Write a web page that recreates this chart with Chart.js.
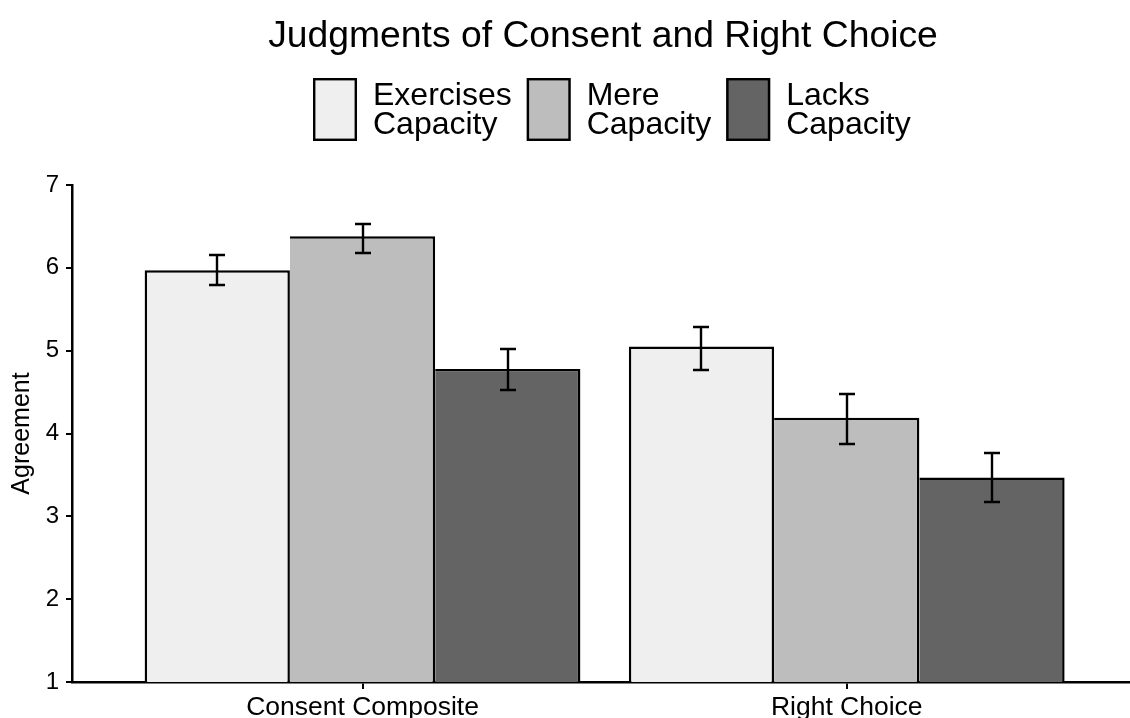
<!DOCTYPE html>
<html><head><meta charset="utf-8">
<script src="https://cdn.jsdelivr.net/npm/chart.js@4/dist/chart.umd.min.js"></script>
<style>html,body{margin:0;padding:0;background:#fff;overflow:hidden}</style>
</head><body><canvas id="c" width="1130" height="718"></canvas>
<script>
// ---- data ----
const categories = ['Consent Composite', 'Right Choice'];
const categoryIndex = [1, 2];
const seriesLabels = [['Exercises', 'Capacity'], ['Mere', 'Capacity'], ['Lacks', 'Capacity']];
const exercisesMean = [5.97, 5.05];
const exercisesLow  = [5.79, 4.77];
const exercisesHigh = [6.15, 5.28];
const mereMean = [6.38, 4.19];
const mereLow  = [6.18, 3.87];
const mereHigh = [6.53, 4.48];
const lacksMean = [4.78, 3.47];
const lacksLow  = [4.52, 3.17];
const lacksHigh = [5.02, 3.77];
const yTickValues = [1, 2, 3, 4, 5, 6, 7];
const chartTitle = 'Judgments of Consent and Right Choice';
const yTitle = 'Agreement';

const FONT = '"Liberation Sans", Arial, Helvetica, sans-serif';
const fills = ['#efefef', '#bdbdbd', '#646464'];

function pts(vals){ return vals.map((v, i) => ({x: categoryIndex[i], y: v})); }

const errorBars = {
  id: 'errorBars',
  afterDatasetsDraw(chart){
    const ctx = chart.ctx, ys = chart.scales.y;
    chart.data.datasets.forEach((ds, di) => {
      const meta = chart.getDatasetMeta(di);
      meta.data.forEach((bar, i) => {
        const x = Math.round(bar.x);
        const yl = Math.round(ys.getPixelForValue(ds.errLow[i]));
        const yh = Math.round(ys.getPixelForValue(ds.errHigh[i]));
        ctx.save();
        ctx.strokeStyle = '#000';
        ctx.lineWidth = 2.4;
        ctx.beginPath();
        ctx.moveTo(x, yl); ctx.lineTo(x, yh);
        ctx.moveTo(x - 8, yl); ctx.lineTo(x + 8, yl);
        ctx.moveTo(x - 8, yh); ctx.lineTo(x + 8, yh);
        ctx.stroke();
        ctx.restore();
      });
    });
  }
};

const titleAndLegend = {
  id: 'titleAndLegend',
  afterDraw(chart){
    const ctx = chart.ctx, ca = chart.chartArea;
    const cx = (ca.left + ca.right) / 2;
    ctx.save();
    ctx.fillStyle = '#000';
    ctx.textBaseline = 'alphabetic';
    ctx.textAlign = 'center';
    ctx.font = '37.3px ' + FONT;
    ctx.fillText(chartTitle, cx + 2, 47);
    // legend
    ctx.font = '32px ' + FONT;
    ctx.textAlign = 'left';
    const boxW = 44, boxTop = 78, boxH = 63, gapText = 16, gapItem = 15;
    let x = cx - 288;
    chart.data.datasets.forEach((ds, i) => {
      ctx.fillStyle = fills[i];
      ctx.fillRect(x, boxTop, boxW, boxH);
      ctx.strokeStyle = '#000';
      ctx.lineWidth = 2.4;
      ctx.strokeRect(x + 1.2, boxTop + 1.2, boxW - 2.4, boxH - 2.4);
      ctx.fillStyle = '#000';
      const lines = seriesLabels[i];
      const tx = x + boxW + gapText;
      ctx.fillText(lines[0], tx, 105);
      ctx.fillText(lines[1], tx, 134);
      const w = Math.max(...lines.map(l => ctx.measureText(l).width));
      x = tx + w + gapItem;
    });
    ctx.restore();
  }
};

const mk = (label, mean, lo, hi, i, bw) => ({
  label: label.join(' '), data: pts(mean), errLow: lo, errHigh: hi,
  backgroundColor: fills[i], borderColor: '#000', borderWidth: bw, borderSkipped: 'start'
});

new Chart(document.getElementById('c'), {
  type: 'bar',
  data: {
    datasets: [
      mk(seriesLabels[0], exercisesMean, exercisesLow, exercisesHigh, 0, {left: 2.5, right: 2.5, top: 2.5, bottom: 0}),
      mk(seriesLabels[1], mereMean, mereLow, mereHigh, 1, {left: 0, right: 2.5, top: 2.5, bottom: 0}),
      mk(seriesLabels[2], lacksMean, lacksLow, lacksHigh, 2, {left: 0, right: 2.5, top: 2.5, bottom: 0})
    ]
  },
  options: {
    responsive: false,
    devicePixelRatio: 1,
    animation: false,
    layout: {padding: {top: 185, left: 0, right: 0, bottom: 0}},
    datasets: {bar: {categoryPercentage: 0.9, barPercentage: 1}},
    plugins: {legend: {display: false}, tooltip: {enabled: false}, title: {display: false}},
    scales: {
      x: {
        type: 'linear', min: 0.4, max: 2.585, offset: false,
        afterBuildTicks: s => { s.ticks = categoryIndex.map(v => ({value: v})); },
        afterFit: s => { s.height = 36; },
        grid: {offset: false, drawOnChartArea: false, drawTicks: true, tickLength: 7, color: '#000', lineWidth: 2, tickWidth: 2, tickColor: '#000'},
        border: {display: true, color: '#000', width: 2.5},
        ticks: {
          padding: 3, color: '#000', font: {family: FONT, size: 26.5}, maxRotation: 0, autoSkip: false,
          callback: (v, i) => categories[i]
        }
      },
      y: {
        min: 1, max: 7,
        afterBuildTicks: s => { s.ticks = yTickValues.map(v => ({value: v})); },
        afterFit: s => { s.width = 72; },
        grid: {drawOnChartArea: false, drawTicks: true, tickLength: 6, color: '#000', lineWidth: 2},
        border: {display: true, color: '#000', width: 2.5},
        ticks: {padding: 7, color: '#000', font: {family: FONT, size: 24}},
        title: {display: true, text: yTitle, color: '#000', font: {family: FONT, size: 25}, padding: {top: 7, bottom: 0}}
      }
    }
  },
  plugins: [errorBars, titleAndLegend]
});
</script></body></html>
